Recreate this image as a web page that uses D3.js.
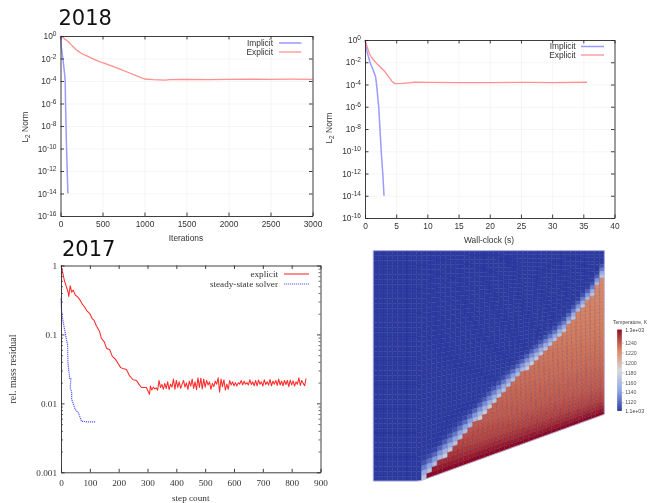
<!DOCTYPE html>
<html>
<head>
<meta charset="utf-8">
<script src="https://d3js.org/d3.v7.min.js"></script>
<style>
  html, body { margin: 0; padding: 0; background: #fff; }
  svg { display: block; }
  .soft { filter: blur(0.45px); }
</style>
</head>
<body>
<script>
// 2018 residuals against iterations
var iterImplicitX = [0, 10, 28, 48, 56, 60, 66, 72, 80, 88];
var iterImplicitY = [1, 0.1, 1e-2, 5e-4, 1e-4, 1e-6, 1e-8, 1e-10, 1e-12, 1e-14];
var iterExplicitX = [0, 25, 50, 75, 100, 125, 150, 175, 200, 250, 300, 400, 500, 600, 700, 800, 900, 1000, 1100, 1250, 1300, 1500, 1750, 2000, 2300, 2500, 2750, 3000];
var iterExplicitY = [1, 0.8, 0.55, 0.4, 0.28, 0.17, 0.11, 0.075, 0.05, 0.028, 0.019, 0.0085, 0.0042, 0.0023, 0.0012, 0.0006, 0.0003, 0.00015, 0.00013, 0.00012, 0.00013, 0.000138, 0.000135, 0.000142, 0.000148, 0.00014, 0.000145, 0.00014];

// 2018 residuals against wall-clock
var wallImplicitX = [0, 0.3, 0.8, 1.3, 1.7, 1.85, 2.2, 2.4, 2.6, 2.85, 3.05];
var wallImplicitY = [1, 0.1, 1e-2, 2e-3, 5e-4, 1e-4, 1e-6, 1e-8, 1e-10, 1e-12, 1e-14];
var wallExplicitX = [0, 0.2, 0.4, 0.6, 0.8, 1, 1.5, 2, 2.6, 3.2, 3.6, 4, 4.3, 4.8, 6, 7, 8, 10, 15, 20, 25, 30, 35.6];
var wallExplicitY = [1, 0.45, 0.2, 0.09, 0.05, 0.03, 0.013, 0.0065, 0.003, 0.0014, 0.0007, 0.00035, 0.0002, 0.00012, 0.000125, 0.00014, 0.00016, 0.000155, 0.00015, 0.00015, 0.000155, 0.00015, 0.00016];

// 2017 mass residual
var stepExplicitX = [0, 5, 12, 24, 27, 32, 37, 42, 50, 58, 65, 75, 82, 90, 100, 108, 115, 122, 134, 140, 150, 158, 169, 178, 188, 198, 207, 215, 227, 238, 250, 262, 270, 279, 296, 307];
var stepExplicitY = [1, 0.82, 0.6, 0.42, 0.355, 0.51, 0.41, 0.44, 0.37, 0.35, 0.32, 0.27, 0.25, 0.22, 0.2, 0.17, 0.16, 0.135, 0.11, 0.088, 0.078, 0.063, 0.06, 0.048, 0.044, 0.038, 0.033, 0.032, 0.031, 0.025, 0.022, 0.0215, 0.019, 0.017, 0.017, 0.0136];
var stepExplicitTail = [
  0.0178, 0.0156, 0.0172, 0.0162, 0.0168, 0.0155, 0.0215, 0.017, 0.0188, 0.016, 0.0195, 0.0165,
  0.0205, 0.0158, 0.019, 0.0172, 0.0225, 0.016, 0.0215, 0.017, 0.0205, 0.0165, 0.019, 0.0215,
  0.0172, 0.0198, 0.016, 0.021, 0.0178, 0.0225, 0.0165, 0.0205, 0.0158, 0.0235, 0.017, 0.0232,
  0.0162, 0.0225, 0.0172, 0.0215, 0.0185, 0.0205, 0.016, 0.0195, 0.0175, 0.021, 0.019, 0.0235,
  0.0145, 0.0225, 0.0175, 0.022, 0.0155, 0.019, 0.016, 0.0215, 0.0185, 0.0205, 0.018, 0.02,
  0.0178, 0.02, 0.019, 0.0215, 0.0185, 0.021, 0.019, 0.02, 0.0185, 0.022, 0.0188, 0.0205,
  0.018, 0.0215, 0.018, 0.0218, 0.019, 0.0205, 0.0178, 0.022, 0.0188, 0.0205, 0.0185, 0.0222,
  0.018, 0.021, 0.019, 0.0215, 0.0182, 0.0225, 0.0185, 0.021, 0.018, 0.0215, 0.0188, 0.0215,
  0.0175, 0.0218, 0.0185, 0.0212, 0.0178, 0.0205, 0.019, 0.0235, 0.0182, 0.0215, 0.0195, 0.018, 0.023
];
var stepSolverX = [0, 2, 7, 13, 18, 23, 24, 30, 34, 32, 37, 37, 49, 61, 71, 90, 120];
var stepSolverY = [0.335, 0.215, 0.154, 0.116, 0.088, 0.07, 0.04, 0.023, 0.023, 0.0165, 0.0148, 0.0115, 0.0082, 0.0072, 0.0055, 0.0054, 0.0054];

// temperature field: row where the hot front sits, for mesh columns 10..47
var frontRow = [46.5, 45.7, 44.9, 44, 43.2, 42.4, 41.6, 40.7, 39.8, 38.9, 38, 37.1, 36.2, 35.3, 34.4, 33.5, 32.6, 31.7, 30.8,
  29.9, 29, 28.1, 27.2, 26.3, 25.4, 24.5, 23.6, 22.7, 21.5, 20.5, 19, 17.5, 16, 14.5, 13, 11.5, 9, 6.5];
var frontDist = [-4, -3, -2, -1, 0, 1, 2, 3, 5];
var frontTemp = [1103, 1106, 1118, 1138, 1160, 1180, 1205, 1216, 1222];
var wallDist = [0, 1, 2, 4, 8, 15, 25, 40];
var wallTemp = [1266, 1260, 1254, 1246, 1238, 1232, 1226, 1220];
var barTicks = [1120, 1140, 1160, 1180, 1200, 1220, 1240];
var barStops = [1103, 1143, 1184, 1225, 1266];
var barColors = ["#2c3b9f", "#8ba3e6", "#d5d5d8", "#d8805c", "#8f0820"];

var decadesWide = [1, 1e-2, 1e-4, 1e-6, 1e-8, 1e-10, 1e-12, 1e-14, 1e-16];
var decadesThree = [1, 0.1, 0.01, 0.001];
var minorThree = [];
[0.001, 0.01, 0.1].forEach(function(d) {
  [2, 3, 4, 5, 6, 7, 8, 9].forEach(function(m) { minorThree.push(d * m); });
});

var width = 648, height = 503;
var svg = d3.select("body").append("svg").attr("width", width).attr("height", height);
var soft = svg.append("g").attr("class", "soft");

function zip(xs, ys) {
  return xs.map(function(x, i) { return [x, ys[i]]; });
}

function drawPlot(o) {
  var x = d3.scaleLinear().domain(o.xDomain).range([o.left, o.right]);
  var y = d3.scaleLog().domain(o.yDomain).range([o.bottom, o.top]);
  var w = o.right - o.left, h = o.bottom - o.top;
  var g = soft.append("g").attr("font-family", o.font).attr("font-size", o.fontSize).attr("fill", "#333");

  if (o.grid) {
    g.append("g").attr("transform", "translate(0," + o.bottom + ")")
      .call(d3.axisBottom(x).tickValues(o.xTicks).tickSize(-h).tickFormat(""))
      .call(function(s) { s.select(".domain").remove(); s.selectAll("line").attr("stroke", "#f0f0f0").attr("stroke-width", 0.7); });
    g.append("g").attr("transform", "translate(" + o.left + ",0)")
      .call(d3.axisLeft(y).tickValues(o.yTicks).tickSize(-w).tickFormat(""))
      .call(function(s) { s.select(".domain").remove(); s.selectAll("line").attr("stroke", "#f0f0f0").attr("stroke-width", 0.7); });
  }

  var line = d3.line().x(function(d) { return x(d[0]); }).y(function(d) { return y(d[1]); });
  o.series.forEach(function(s) {
    g.append("path").datum(s.points).attr("d", line).attr("fill", "none")
      .attr("stroke", s.color).attr("stroke-width", s.width).attr("stroke-dasharray", s.dash || null)
      .attr("stroke-linejoin", "round");
  });

  // ticks point inwards on all four sides, like gnuplot
  var xb = g.append("g").attr("transform", "translate(0," + o.bottom + ")")
    .call(d3.axisBottom(x).tickValues(o.xTicks).tickSizeInner(-3.5).tickSizeOuter(0).tickPadding(o.xPad).tickFormat(d3.format("d")));
  var xt = g.append("g").attr("transform", "translate(0," + o.top + ")")
    .call(d3.axisTop(x).tickValues(o.xTicks).tickSizeInner(-3.5).tickSizeOuter(0).tickFormat(""));
  var yl = g.append("g").attr("transform", "translate(" + o.left + ",0)")
    .call(d3.axisLeft(y).tickValues(o.yTicks).tickSizeInner(-3.5).tickSizeOuter(0).tickPadding(o.yPad).tickFormat(o.yFormat || ""));
  var yr = g.append("g").attr("transform", "translate(" + o.right + ",0)")
    .call(d3.axisRight(y).tickValues(o.yTicks).tickSizeInner(-3.5).tickSizeOuter(0).tickFormat(""));
  [xb, xt, yl, yr].forEach(function(a) {
    a.attr("font-family", null).attr("font-size", null);
    a.selectAll("path, line").attr("stroke", "#2a2a2a").attr("stroke-width", 0.9);
    a.selectAll("text").attr("fill", "#333");
  });

  if (o.minor) {
    g.append("g").attr("transform", "translate(" + o.left + ",0)")
      .call(d3.axisLeft(y).tickValues(o.minor).tickSizeInner(-2).tickSizeOuter(0).tickFormat(""))
      .call(function(s) { s.select(".domain").remove(); s.selectAll("line").attr("stroke", "#2a2a2a").attr("stroke-width", 0.7); });
    g.append("g").attr("transform", "translate(" + o.right + ",0)")
      .call(d3.axisRight(y).tickValues(o.minor).tickSizeInner(-2).tickSizeOuter(0).tickFormat(""))
      .call(function(s) { s.select(".domain").remove(); s.selectAll("line").attr("stroke", "#2a2a2a").attr("stroke-width", 0.7); });
  }

  if (o.powers) {
    yl.selectAll(".tick text").each(function(d) {
      var t = d3.select(this);
      t.text("10");
      t.append("tspan").attr("dy", -3).attr("font-size", o.fontSize * 0.78).text(Math.round(Math.log10(d)));
    });
  }

  // legend
  o.series.forEach(function(s, i) {
    var ly = o.legendY[i];
    g.append("text").attr("x", o.legendText).attr("y", ly).attr("dy", "0.35em").attr("text-anchor", "end").text(s.name);
    g.append("line").attr("x1", o.legendLine[0]).attr("x2", o.legendLine[1]).attr("y1", ly).attr("y2", ly)
      .attr("stroke", s.color).attr("stroke-width", s.width).attr("stroke-dasharray", s.dash || null);
  });

  g.append("text").attr("x", o.xLabel[0]).attr("y", o.xLabel[1]).attr("dy", "0.35em")
    .attr("text-anchor", "middle").text(o.xTitle);

  var yt = g.append("text").attr("text-anchor", "middle").attr("dy", "0.35em")
    .attr("font-size", o.yTitleSize || null)
    .attr("transform", "translate(" + o.yLabel[0] + "," + o.yLabel[1] + ") rotate(-90)");
  if (o.yTitleSub) {
    yt.append("tspan").text("L");
    yt.append("tspan").attr("dy", 2).attr("font-size", o.fontSize * 0.78).text("2");
    yt.append("tspan").attr("dy", -2).text(" Norm");
  } else {
    yt.text(o.yTitle);
  }
}

var sansFont = "'Liberation Sans', Arial, sans-serif";
var serifFont = "'Liberation Serif', 'Times New Roman', serif";

drawPlot({
  left: 60.5, right: 312.5, top: 36, bottom: 216,
  xDomain: [0, 3000], yDomain: [1e-16, 1],
  xTicks: [0, 500, 1000, 1500, 2000, 2500, 3000], yTicks: decadesWide,
  grid: true, powers: true, font: sansFont, fontSize: 8.4, xPad: 5.5, yPad: 4,
  yFormat: function(d) { return d; },
  series: [
    { name: "Implicit", points: zip(iterImplicitX, iterImplicitY), color: "#9a9aff", width: 1.5 },
    { name: "Explicit", points: zip(iterExplicitX, iterExplicitY), color: "#ff9090", width: 1.3 }
  ],
  legendY: [43, 52], legendText: 273, legendLine: [279, 301.5],
  xTitle: "Iterations", xLabel: [186, 238],
  yTitleSub: true, yLabel: [25, 127]
});

drawPlot({
  left: 365, right: 614.5, top: 40, bottom: 218,
  xDomain: [0, 40], yDomain: [1e-16, 1],
  xTicks: [0, 5, 10, 15, 20, 25, 30, 35, 40], yTicks: decadesWide,
  grid: true, powers: true, font: sansFont, fontSize: 8.4, xPad: 5.5, yPad: 4,
  yFormat: function(d) { return d; },
  series: [
    { name: "Implicit", points: zip(wallImplicitX, wallImplicitY), color: "#9a9aff", width: 1.5 },
    { name: "Explicit", points: zip(wallExplicitX, wallExplicitY), color: "#ff9090", width: 1.3 }
  ],
  legendY: [46.5, 55], legendText: 575.7, legendLine: [581, 604],
  xTitle: "Wall-clock (s)", xLabel: [489, 240],
  yTitleSub: true, yLabel: [329, 128]
});

var tailSteps = d3.range(310, 855, 5);
drawPlot({
  left: 61, right: 320.5, top: 265.5, bottom: 472.3,
  xDomain: [0, 900], yDomain: [0.001, 1],
  xTicks: d3.range(0, 1000, 100), yTicks: decadesThree, minor: minorThree,
  grid: false, powers: false, font: serifFont, fontSize: 9.2, xPad: 7, yPad: 4,
  yFormat: function(d) { return d; },
  series: [
    { name: "explicit", points: zip(stepExplicitX.concat(tailSteps), stepExplicitY.concat(stepExplicitTail)), color: "#ff2a2a", width: 1.05 },
    { name: "steady-state solver", points: zip(stepSolverX, stepSolverY), color: "#5a5aff", width: 1.2, dash: "1.2,0.8" }
  ],
  legendY: [274, 284], legendText: 278, legendLine: [284, 309],
  xTitle: "step count", xLabel: [190.7, 498],
  yTitle: "rel. mass residual", yTitleSize: 9.9, yLabel: [13, 369]
});

// mesh and colour map
var tempColor = d3.scaleLinear().domain(barStops).range(barColors).clamp(true);
var colX = d3.scaleLinear().domain([0, 48]).range([373.3, 604.3]);
var wallY = d3.scaleLinear().domain([9.7, 48]).range([481, 414.3]).clamp(true);
var meshTop = 250.7, rows = 48, cols = 48;
var fromFront = d3.scaleLinear().domain(frontDist).range(frontTemp).clamp(true);
var fromWall = d3.scaleLinear().domain(wallDist).range(wallTemp).clamp(true);

function meshNode(i, j) {
  // columns lean a little towards the wall in the middle of the hot part
  var lean = i > 10 && i < 48 ? 1.3 * Math.sin(Math.PI * (i - 10) / 38) : 0;
  var c = i + lean * Math.pow(j / rows, 2);
  var yy = meshTop + (wallY(c) - meshTop) * j / rows;
  return [colX(c), yy];
}

function cellTemp(i, j) {
  if (i < 10) return barStops[0];
  var d = j - frontRow[i - 10];
  var t = fromFront(d);
  return d >= 1 ? Math.max(t, fromWall(rows - 1 - j)) : t;
}

var cells = [];
d3.range(cols).forEach(function(i) {
  d3.range(rows).forEach(function(j) { cells.push({ i: i, j: j, t: cellTemp(i, j) }); });
});

var meshG = soft.append("g");
var quad = d3.line();
meshG.selectAll("path.cell").data(cells).join("path").attr("class", "cell")
  .attr("d", function(c) {
    return quad([meshNode(c.i, c.j), meshNode(c.i + 1, c.j), meshNode(c.i + 1, c.j + 1), meshNode(c.i, c.j + 1)]) + "Z";
  })
  .attr("fill", function(c) { return tempColor(c.t); })
  .attr("stroke", function(c) { return tempColor(c.t); })
  .attr("stroke-width", 0.3);

// edges: columns show up stronger than rows
d3.range(1, cols).forEach(function(i) {
  meshG.append("path").attr("d", quad(d3.range(rows + 1).map(function(j) { return meshNode(i, j); })))
    .attr("fill", "none").attr("stroke", "#1c1c80").attr("stroke-width", 0.5).attr("stroke-opacity", 0.36);
});
d3.range(1, rows).forEach(function(j) {
  meshG.append("path").attr("d", quad(d3.range(cols + 1).map(function(i) { return meshNode(i, j); })))
    .attr("fill", "none").attr("stroke", "#1c1c80").attr("stroke-width", 0.5).attr("stroke-opacity", 0.26);
});
var outline = d3.range(cols + 1).map(function(i) { return meshNode(i, 0); })
  .concat(d3.range(1, rows + 1).map(function(j) { return meshNode(cols, j); }))
  .concat(d3.range(cols - 1, -1, -1).map(function(i) { return meshNode(i, rows); }))
  .concat(d3.range(rows - 1, 0, -1).map(function(j) { return meshNode(0, j); }));
meshG.append("path").attr("d", quad(outline) + "Z").attr("fill", "none")
  .attr("stroke", "#b8b8e8").attr("stroke-width", 0.8);

// colour bar
var barY = d3.scaleLinear().domain([1103, 1266]).range([410.7, 329.7]);
var barG = soft.append("g").attr("font-family", sansFont).attr("font-size", 5.2).attr("fill", "#444");
barG.selectAll("rect").data(d3.range(1103, 1266, 1)).join("rect")
  .attr("x", 617.3).attr("width", 4.4)
  .attr("y", function(t) { return barY(t + 1) - 0.2; })
  .attr("height", function(t) { return barY(t) - barY(t + 1) + 0.4; })
  .attr("fill", function(t) { return tempColor(t); });
var barAxis = barG.append("g").attr("transform", "translate(621.7,0)")
  .call(d3.axisRight(barY).tickValues(barTicks).tickSize(2).tickPadding(1.5).tickFormat(d3.format("d")));
barAxis.attr("font-family", null).attr("font-size", null);
barAxis.select(".domain").remove();
barAxis.selectAll("line").attr("stroke", "#999").attr("stroke-width", 0.6);
barAxis.selectAll("text").attr("fill", "#555");
barG.append("text").attr("x", 625.2).attr("y", barY(1266)).attr("dy", "0.35em").text("1.3e+03");
barG.append("text").attr("x", 625.2).attr("y", barY(1103)).attr("dy", "0.35em").text("1.1e+03");
barG.append("text").attr("x", 613).attr("y", 322).attr("dy", "0.35em").attr("font-size", 5).text("Temperature, K");

// year headings
svg.append("text").attr("x", 58.5).attr("y", 25).attr("font-family", "'DejaVu Sans', sans-serif")
  .attr("font-size", 21).attr("fill", "#111").text("2018");
svg.append("text").attr("x", 62).attr("y", 255.5).attr("font-family", "'DejaVu Sans', sans-serif")
  .attr("font-size", 21).attr("fill", "#111").text("2017");
</script>
</body>
</html>
